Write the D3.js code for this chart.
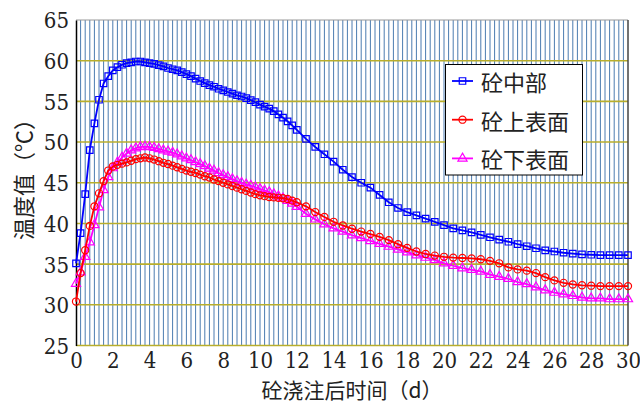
<!DOCTYPE html>
<html lang="zh">
<head>
    <meta charset="UTF-8">
    <title>砼温度曲线 - D3.js</title>
    <script src="https://d3js.org/d3.v7.min.js"></script>
    <style>
        body { margin: 0; background: #fff; }
        svg { display: block; }
    </style>
</head>
<body>
<script>
// 时间（d）
const days = [
    0, 0.25, 0.5, 0.75, 1, 1.25, 1.5, 1.75, 2, 2.25, 2.5, 2.75, 3, 3.25, 3.5, 3.75, 4,
    4.25, 4.5, 4.75, 5, 5.25, 5.5, 5.75, 6, 6.25, 6.5, 6.75, 7, 7.25, 7.5, 7.75, 8,
    8.25, 8.5, 8.75, 9, 9.25, 9.5, 9.75, 10, 10.25, 10.5, 10.75, 11, 11.25, 11.5, 11.75, 12,
    12.5, 13, 13.5, 14, 14.5, 15, 15.5, 16, 16.5, 17, 17.5, 18, 18.5,
    19, 19.5, 20, 20.5, 21, 21.5, 22, 22.5, 23, 23.5, 24, 24.5,
    25, 25.5, 26, 26.5, 27, 27.5, 28, 28.5, 29, 29.5, 30
];

// 砼中部
const midTemp = [
    35.1, 38.8, 43.6, 49.0, 52.3, 55.2, 57.2, 58.1, 58.8, 59.2, 59.5, 59.7, 59.8, 59.9, 59.9, 59.8, 59.7,
    59.6, 59.45, 59.3, 59.1, 58.95, 58.8, 58.6, 58.35, 58.1, 57.8, 57.5, 57.25, 57.0, 56.8, 56.55, 56.35,
    56.15, 55.95, 55.75, 55.6, 55.4, 55.15, 54.9, 54.6, 54.35, 54.1, 53.8, 53.4, 53.0, 52.55, 52.05, 51.5,
    50.4, 49.4, 48.5, 47.6, 46.6, 45.7, 45.0, 44.4, 43.5, 42.6, 41.9, 41.4, 41.0,
    40.6, 40.2, 39.8, 39.4, 39.15, 38.9, 38.6, 38.3, 38.0, 37.75, 37.45, 37.2,
    36.95, 36.7, 36.55, 36.4, 36.3, 36.2, 36.15, 36.1, 36.1, 36.1, 36.1
];

// 砼上表面
const topTemp = [
    30.4, 33.9, 36.7, 39.7, 42.1, 43.7, 45.2, 46.5, 47.0, 47.2, 47.35, 47.5, 47.7, 47.9, 48.0, 48.1, 48.0,
    47.85, 47.65, 47.45, 47.3, 47.1, 46.9, 46.7, 46.5, 46.35, 46.2, 46.0, 45.8, 45.65, 45.4, 45.2, 45.0,
    44.8, 44.6, 44.4, 44.2, 44.0, 43.8, 43.6, 43.45, 43.35, 43.25, 43.2, 43.15, 43.1, 43.0, 42.8, 42.6,
    42.1, 41.4, 40.8, 40.2, 39.75, 39.35, 39.0, 38.7, 38.35, 37.95, 37.45, 37.0, 36.55,
    36.25, 36.05, 35.9, 35.8, 35.75, 35.7, 35.6, 35.4, 35.1, 34.6, 34.35, 34.2,
    33.9, 33.4, 33.0, 32.7, 32.5, 32.4, 32.35, 32.3, 32.3, 32.3, 32.3
];

// 砼下表面
const bottomTemp = [
    32.6, 34.0, 35.9, 37.7, 39.8, 42.0, 44.1, 45.7, 46.8, 47.5, 48.1, 48.6, 49.0, 49.25, 49.4, 49.45, 49.4,
    49.3, 49.15, 49.0, 48.85, 48.7, 48.5, 48.25, 48.0, 47.8, 47.55, 47.3, 47.05, 46.75, 46.5, 46.2, 45.95,
    45.7, 45.45, 45.2, 45.0, 44.8, 44.65, 44.45, 44.25, 44.05, 43.85, 43.6, 43.35, 43.1, 42.8, 42.45, 42.05,
    41.2, 40.5, 39.9, 39.4, 39.0, 38.55, 38.2, 37.85, 37.5, 37.15, 36.8, 36.45, 36.1,
    35.8, 35.5, 35.1, 34.8, 34.5, 34.3, 34.1, 33.7, 33.45, 33.2, 32.8, 32.55,
    32.15, 31.8, 31.5, 31.3, 31.1, 30.9, 30.8, 30.8, 30.7, 30.7, 30.7
];

const seriesNames = ["砼中部", "砼上表面", "砼下表面"];
const xTicks = [0, 2, 4, 6, 8, 10, 12, 14, 16, 18, 20, 22, 24, 26, 28, 30];
const yTicks = [25, 30, 35, 40, 45, 50, 55, 60, 65];

const width = 640, height = 404;
const plot = { left: 76, right: 628, top: 20, bottom: 345.5 };
const numFont = "DejaVu Serif Condensed, DejaVu Serif, serif";
const cjk = "Noto Sans CJK SC, sans-serif";

const svg = d3.select("body").append("svg")
    .attr("width", width)
    .attr("height", height);

svg.append("rect").attr("width", width).attr("height", height).attr("fill", "#fff");

const x = d3.scaleLinear().domain([0, 30]).range([plot.left, plot.right]);
const y = d3.scaleLinear().domain([25, 65]).range([plot.bottom, plot.top]);

// 竖向网格（每 0.25 d）
svg.append("g")
    .selectAll("line")
    .data(d3.range(0.25, 30, 0.25))
    .join("line")
    .attr("x1", d => x(d)).attr("x2", d => x(d))
    .attr("y1", plot.top).attr("y2", plot.bottom)
    .attr("stroke", "#4a7bb0")
    .attr("stroke-width", 1);

// 横向网格
svg.append("g")
    .selectAll("line")
    .data(yTicks.filter(v => v < 65))
    .join("line")
    .attr("x1", plot.left).attr("x2", plot.right)
    .attr("y1", d => y(d)).attr("y2", d => y(d))
    .attr("stroke", "#b8ae2c")
    .attr("stroke-width", 1.6);

// 边框
svg.append("line").attr("x1", plot.left).attr("x2", plot.right)
    .attr("y1", plot.top).attr("y2", plot.top).attr("stroke", "#999").attr("stroke-width", 1.2);
svg.append("line").attr("x1", plot.right).attr("x2", plot.right)
    .attr("y1", plot.top).attr("y2", plot.bottom).attr("stroke", "#444").attr("stroke-width", 1.5);

// 坐标轴
const yAxis = svg.append("g")
    .attr("transform", `translate(${plot.left},0)`)
    .call(d3.axisLeft(y).tickValues(yTicks).tickSize(0).tickPadding(7));
yAxis.attr("font-family", numFont).attr("font-size", 22);
yAxis.select(".domain").attr("stroke", "#000").attr("stroke-width", 1.5);
yAxis.selectAll("text")
    .attr("fill", "#222")
    .attr("dy", "0.36em");

const xAxis = svg.append("g")
    .attr("transform", `translate(0,${plot.bottom})`)
    .call(d3.axisBottom(x).tickValues(xTicks).tickSize(0));
xAxis.attr("font-family", numFont).attr("font-size", 22);
xAxis.select(".domain").remove();
xAxis.selectAll("text")
    .attr("fill", "#222")
    .attr("y", 15).attr("dy", "0.36em");

// 曲线
const series = [
    { name: seriesNames[0], values: midTemp, color: "#0000ff", symbol: d3.symbolSquare, size: 42 },
    { name: seriesNames[1], values: topTemp, color: "#ff0000", symbol: d3.symbolCircle, size: 40 },
    { name: seriesNames[2], values: bottomTemp, color: "#ff00ff", symbol: d3.symbolTriangle, size: 36 }
];

const line = d3.line().x(d => x(d[0])).y(d => y(d[1]));

series.slice().reverse().forEach(s => {
    const pts = days.map((d, i) => [d, s.values[i]]);
    const g = svg.append("g");
    g.append("path")
        .datum(pts)
        .attr("d", line)
        .attr("fill", "none")
        .attr("stroke", s.color)
        .attr("stroke-width", 1.8);
    g.selectAll("path.mk")
        .data(pts)
        .join("path")
        .attr("class", "mk")
        .attr("d", d3.symbol(s.symbol, s.size))
        .attr("transform", d => `translate(${x(d[0])},${y(d[1])})`)
        .attr("fill", "none")
        .attr("stroke", s.color)
        .attr("stroke-width", 1.2);
});

// 图例
const legend = svg.append("g");
legend.append("rect")
    .attr("x", 445.5).attr("y", 64.5)
    .attr("width", 137).attr("height", 110.5)
    .attr("fill", "#fff").attr("stroke", "#000").attr("stroke-width", 1);

series.forEach((s, i) => {
    const ly = 81 + i * 38.7;
    legend.append("line")
        .attr("x1", 452).attr("x2", 473)
        .attr("y1", ly).attr("y2", ly)
        .attr("stroke", s.color).attr("stroke-width", 1.8);
    legend.append("path")
        .attr("d", d3.symbol(s.symbol, s.size))
        .attr("transform", `translate(462.5,${ly})`)
        .attr("fill", "none").attr("stroke", s.color).attr("stroke-width", 1.2);
    legend.append("text")
        .attr("x", 481).attr("y", ly)
        .attr("dominant-baseline", "central")
        .attr("font-family", cjk).attr("font-size", 22).attr("fill", "#222")
        .text(s.name);
});

// 轴标题
svg.append("text")
    .attr("x", 352).attr("y", 389)
    .attr("text-anchor", "middle")
    .attr("dominant-baseline", "central")
    .attr("font-family", cjk).attr("font-size", 21).attr("fill", "#222")
    .text("砼浇注后时间（d）");

svg.append("text")
    .attr("transform", "translate(22,174) rotate(-90)")
    .attr("text-anchor", "middle")
    .attr("dominant-baseline", "central")
    .attr("font-family", cjk).attr("font-size", 22).attr("fill", "#222")
    .text("温度值（℃）");
</script>
</body>
</html>
